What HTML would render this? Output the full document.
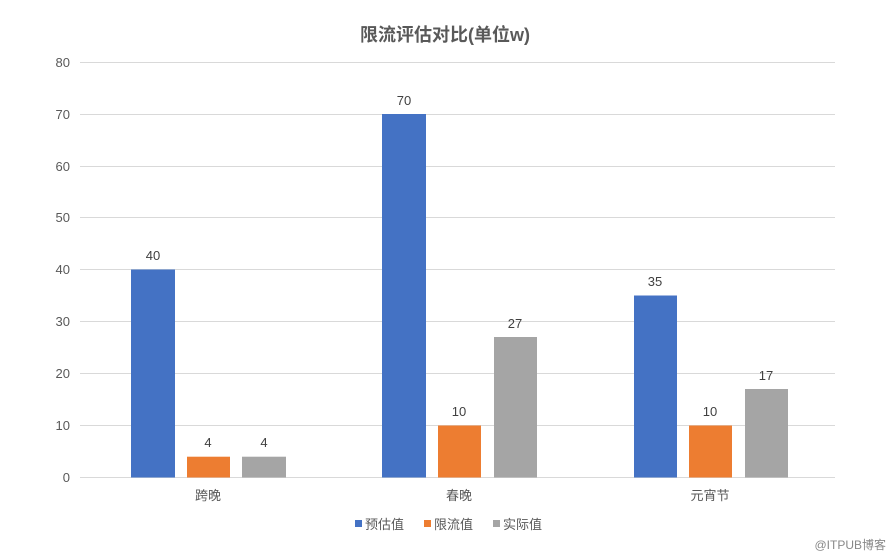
<!DOCTYPE html>
<html><head><meta charset="utf-8"><style>
body{margin:0;background:#fff;}
svg{display:block;font-family:"Liberation Sans","Noto Sans CJK SC",sans-serif;}
</style></head><body>
<svg width="890" height="558" viewBox="0 0 890 558" xmlns="http://www.w3.org/2000/svg">
<rect width="890" height="558" fill="#fff"/>
<text x="445" y="41" text-anchor="middle" font-size="18" fill="#595959" font-weight="bold">限流评估对比(单位w)</text>
<g stroke="#d9d9d9" stroke-width="1">
<line x1="80" x2="835" y1="62.5" y2="62.5"/>
<line x1="80" x2="835" y1="114.5" y2="114.5"/>
<line x1="80" x2="835" y1="166.5" y2="166.5"/>
<line x1="80" x2="835" y1="217.5" y2="217.5"/>
<line x1="80" x2="835" y1="269.5" y2="269.5"/>
<line x1="80" x2="835" y1="321.5" y2="321.5"/>
<line x1="80" x2="835" y1="373.5" y2="373.5"/>
<line x1="80" x2="835" y1="425.5" y2="425.5"/>
<line x1="80" x2="835" y1="477.5" y2="477.5"/>
</g>
<g font-size="13" fill="#595959" text-anchor="end">
<text x="70" y="67">80</text><text x="70" y="119">70</text><text x="70" y="171">60</text>
<text x="70" y="222">50</text><text x="70" y="274">40</text><text x="70" y="326">30</text>
<text x="70" y="378">20</text><text x="70" y="430">10</text><text x="70" y="482">0</text>
</g>
<g>
<rect x="131" y="269.5" width="44" height="208" fill="#4472c4"/>
<rect x="187" y="456.7" width="43" height="20.8" fill="#ed7d31"/>
<rect x="242" y="456.7" width="44" height="20.8" fill="#a5a5a5"/>
<rect x="382" y="114" width="44" height="363.5" fill="#4472c4"/>
<rect x="438" y="425.5" width="43" height="52" fill="#ed7d31"/>
<rect x="494" y="337" width="43" height="140.5" fill="#a5a5a5"/>
<rect x="634" y="295.5" width="43" height="182" fill="#4472c4"/>
<rect x="689" y="425.5" width="43" height="52" fill="#ed7d31"/>
<rect x="745" y="389" width="43" height="88.5" fill="#a5a5a5"/>
</g>
<g font-size="13" fill="#404040" text-anchor="middle">
<text x="153" y="260">40</text><text x="208" y="447">4</text><text x="264" y="447">4</text>
<text x="404" y="105">70</text><text x="459" y="416">10</text><text x="515" y="328">27</text>
<text x="655" y="286">35</text><text x="710" y="416">10</text><text x="766" y="380">17</text>
</g>
<g font-size="13" fill="#595959" text-anchor="middle">
<text x="208" y="500">跨晚</text><text x="459" y="500">春晚</text><text x="710" y="500">元宵节</text>
</g>
<g font-size="13" fill="#595959">
<rect x="355" y="520" width="7" height="7" fill="#4472c4"/><text x="365" y="529">预估值</text>
<rect x="424" y="520" width="7" height="7" fill="#ed7d31"/><text x="434" y="529">限流值</text>
<rect x="493" y="520" width="7" height="7" fill="#a5a5a5"/><text x="503" y="529">实际值</text>
</g>
<text x="886" y="549" text-anchor="end" font-size="12" fill="#888">@ITPUB博客</text>
</svg>
</body></html>
